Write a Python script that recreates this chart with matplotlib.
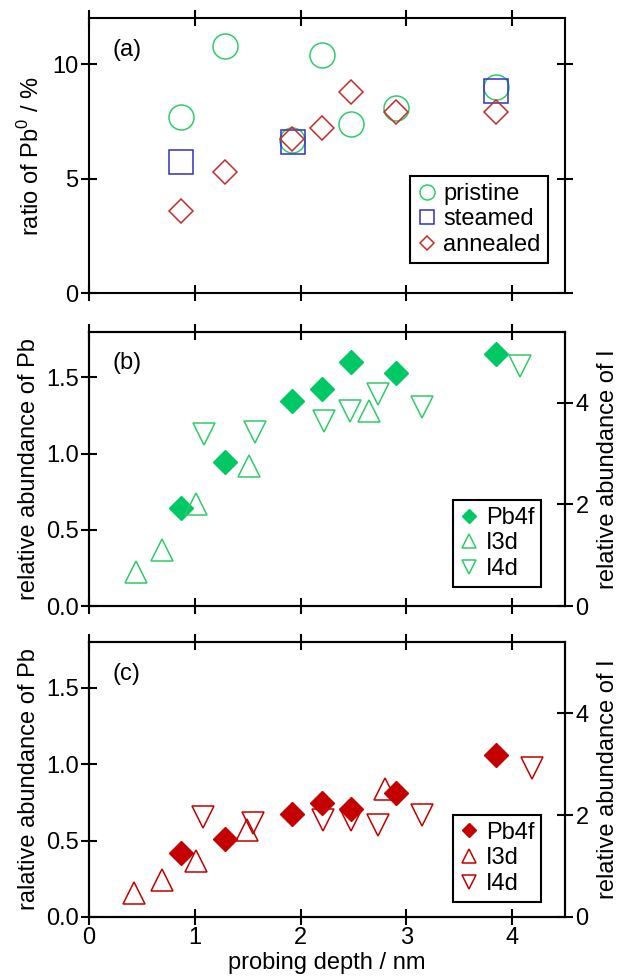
import matplotlib.pyplot as plt

plt.rcParams['font.family'] = ['Liberation Sans', 'DejaVu Sans']
plt.rcParams['mathtext.fontset'] = 'custom'
plt.rcParams['mathtext.rm'] = 'Liberation Sans'

FS = 17

# (a) ratio of Pb0
pristine_x = [0.87, 1.29, 1.92, 2.20, 2.48, 2.90, 3.85]
pristine = [7.7, 10.8, 6.7, 10.4, 7.4, 8.1, 9.0]
steamed_x = [0.87, 1.93, 3.85]
steamed = [5.75, 6.6, 8.85]
annealed_x = [0.87, 1.29, 1.92, 2.20, 2.48, 2.90, 3.85]
annealed = [3.6, 5.3, 6.75, 7.2, 8.8, 7.9, 7.9]

# (b) pristine, relative abundance
pb_x = [0.87, 1.29, 1.92, 2.20, 2.48, 2.90, 3.85]
pb_b = [0.645, 0.945, 1.345, 1.425, 1.60, 1.53, 1.65]
i3d_x_b = [0.44, 0.69, 1.01, 1.51, 2.65]
i3d_b = [0.67, 1.10, 2.0, 2.75, 3.84]
i4d_x_b = [1.09, 1.57, 2.22, 2.47, 2.73, 3.15, 4.07]
i4d_b = [3.39, 3.43, 3.65, 3.84, 4.18, 3.92, 4.73]

# (c) annealed, relative abundance
pb_c = [0.42, 0.513, 0.677, 0.747, 0.71, 0.813, 1.06]
i3d_x_c = [0.43, 0.69, 1.01, 1.49, 2.80]
i3d_c = [0.47, 0.72, 1.09, 1.70, 2.52]
i4d_x_c = [1.08, 1.55, 2.21, 2.475, 2.73, 3.15, 4.19]
i4d_c = [1.96, 1.85, 1.90, 1.90, 1.80, 2.0, 2.92]

green = '#2ecc6a'
green_fill = '#00c864'
blue = '#3030c8'
red = '#cc2a2a'
dark_red = '#c40000'

fig = plt.figure(figsize=(6.19, 9.80), dpi=100)
L, W = 0.1438, 0.769
ax_a = fig.add_axes([L, 0.7007, W, 0.2806])
ax_b = fig.add_axes([L, 0.3816, W, 0.2800])
ax_c = fig.add_axes([L, 0.0643, W, 0.2806])


def style(ax):
    for s in ax.spines.values():
        s.set_linewidth(1.5)
    ax.tick_params(direction='inout', length=11, width=1.5, labelsize=FS,
                   top=True, pad=2)
    ax.set_xlim(0, 4.5)
    ax.set_xticks([0, 1, 2, 3, 4])


# panel (a)
style(ax_a)
ax_a.plot(pristine_x, pristine, 'o', ms=18, mfc='none', mec=green, mew=1.1,
          label='pristine')
ax_a.plot(steamed_x, steamed, 's', ms=17, mfc='none', mec=blue, mew=1.1,
          label='steamed')
ax_a.plot(annealed_x, annealed, 'D', ms=12, mfc='none', mec=red, mew=1.1,
          label='annealed')
ax_a.set_ylim(0, 12)
ax_a.set_yticks([0, 5, 10])
ax_a.tick_params(right=True, labelbottom=False)
ax_a.set_ylabel('ratio of Pb$^0$ / %', fontsize=FS, labelpad=6)
ax_a.text(0.05, 0.885, '(a)', transform=ax_a.transAxes, fontsize=FS,
          va='center')
leg = ax_a.legend(loc='lower right', bbox_to_anchor=(0.964, 0.11),
                  borderaxespad=0, fontsize=FS, markerscale=0.6,
                  handlelength=0.8, handletextpad=0.3, labelspacing=0.15,
                  borderpad=0.3, fancybox=False, framealpha=1)
leg.get_frame().set_edgecolor('black')
leg.get_frame().set_linewidth(1.5)


def abundance_panel(ax, pb, i3x, i3, i4x, i4, col_fill, col_line, ylab, tag):
    style(ax)
    ax.set_ylim(0, 1.8)
    ax.set_yticks([0, 0.5, 1.0, 1.5])
    ax.set_yticklabels(['0.0', '0.5', '1.0', '1.5'])
    ax.set_ylabel(ylab, fontsize=FS, labelpad=4)
    axr = ax.twinx()
    axr.set_ylim(0, 5.4)
    axr.set_yticks([0, 2, 4])
    axr.tick_params(direction='inout', length=11, width=1.5, labelsize=FS,
                    pad=2)
    axr.set_ylabel('relative abundance of I', fontsize=FS, labelpad=6)
    for s in axr.spines.values():
        s.set_linewidth(1.5)
    h1, = ax.plot(pb_x, pb, 'D', ms=12, mfc=col_fill, mec=col_fill,
                  label='Pb4f', zorder=3)
    h2, = axr.plot(i3x, i3, '^', ms=16.5, mfc='none', mec=col_line,
                   mew=1.1, label='I3d')
    h3, = axr.plot(i4x, i4, 'v', ms=16.5, mfc='none', mec=col_line,
                   mew=1.1, label='I4d')
    ax.text(0.05, 0.885, tag, transform=ax.transAxes, fontsize=FS,
            va='center')
    return axr, [h1, h2, h3]


axr_b, hb = abundance_panel(ax_b, pb_b, i3d_x_b, i3d_b, i4d_x_b, i4d_b,
                            green_fill, green, 'relative abundance of Pb', '(b)')
ax_b.tick_params(labelbottom=False)
leg = axr_b.legend(hb, ['Pb4f', 'I3d', 'I4d'], loc='lower right',
                   bbox_to_anchor=(0.95, 0.069), borderaxespad=0,
                   fontsize=FS, markerscale=0.6, handlelength=0.8,
                   handletextpad=0.3, labelspacing=0.15, borderpad=0.3,
                   fancybox=False, framealpha=1)
leg.get_frame().set_edgecolor('black')
leg.get_frame().set_linewidth(1.5)

axr_c, hc = abundance_panel(ax_c, pb_c, i3d_x_c, i3d_c, i4d_x_c, i4d_c,
                            dark_red, dark_red, 'ralative abundance of Pb', '(c)')
ax_c.set_xlabel('probing depth / nm', fontsize=FS, labelpad=2)
leg = axr_c.legend(hc, ['Pb4f', 'I3d', 'I4d'], loc='lower right',
                   bbox_to_anchor=(0.95, 0.055), borderaxespad=0,
                   fontsize=FS, markerscale=0.6, handlelength=0.8,
                   handletextpad=0.3, labelspacing=0.15, borderpad=0.3,
                   fancybox=False, framealpha=1)
leg.get_frame().set_edgecolor('black')
leg.get_frame().set_linewidth(1.5)

fig.savefig('out.png', dpi=100)
